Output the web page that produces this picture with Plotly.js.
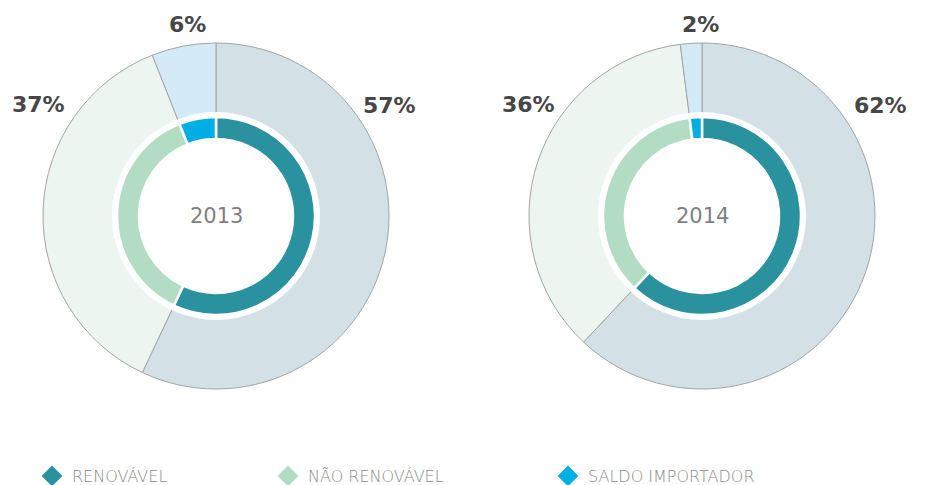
<!DOCTYPE html>
<html>
<head>
<meta charset="utf-8">
<script src="https://cdn.plot.ly/plotly-3.0.1.min.js"></script>
<style>html,body{margin:0;padding:0;background:#fff;}#chart{width:927px;height:485px;}</style>
</head>
<body>
<div id="chart"></div>
<script>
// ---- data ----
const categories = ["RENOVÁVEL", "NÃO RENOVÁVEL", "SALDO IMPORTADOR"];
const years = ["2013", "2014"];
const values2013 = [57, 37, 6];
const values2014 = [62, 36, 2];

// ---- styles ----
const outerColors = ["#d3e1e6", "#edf5f1", "#d4eaf6"];
const innerColors = ["#2a919f", "#b2dcc4", "#00aee6"];
const labelFont = {family: "DejaVu Sans", size: 22, color: "#464646", weight: 700};
const yearFont = {family: "DejaVu Sans", size: 21, color: "#7f7f7f"};
const legendFont = {family: "DejaVu Sans", size: 16, color: "#8a8a8a", weight: 200};

const W = 927, H = 485;
function px(x) { return x / W; }
function py(y) { return (H - y) / H; }

const charts = [
  {values: values2013, year: years[0], cx: 216, cy: 216,
   labelPos: [[389, 105], [38, 104], [187, 24]]},
  {values: values2014, year: years[1], cx: 702, cy: 216,
   labelPos: [[880, 105], [528, 104], [700, 24]]}
];
const R_OUT = 173, R_GAP = 104, R_IN = 99;

function dom(c, r) {
  return {x: [px(c.cx - r), px(c.cx + r)], y: [py(c.cy + r), py(c.cy - r)]};
}

const traces = [];
const annotations = [];
charts.forEach(c => {
  const total = c.values.reduce((a, b) => a + b, 0);
  // outer light ring
  traces.push({
    type: "pie", labels: categories, values: c.values, sort: false,
    direction: "clockwise", rotation: 0,
    marker: {colors: outerColors, line: {color: "#a4a4a4", width: 1}},
    textinfo: "none", hoverinfo: "skip", showlegend: false,
    domain: dom(c, R_OUT)
  });
  // white separation disc (whole total as one slice)
  traces.push({
    type: "pie", labels: [c.year], values: [total], sort: false,
    marker: {colors: ["#ffffff"], line: {color: "#ffffff", width: 0}},
    textinfo: "none", hoverinfo: "skip", showlegend: false,
    domain: dom(c, R_GAP)
  });
  // inner saturated ring
  traces.push({
    type: "pie", labels: categories, values: c.values, sort: false,
    direction: "clockwise", rotation: 0, hole: 77 / 99,
    marker: {colors: innerColors, line: {color: "#ffffff", width: 2.5}},
    textinfo: "none", hoverinfo: "skip", showlegend: false,
    domain: dom(c, R_IN)
  });
  annotations.push({
    xref: "paper", yref: "paper", x: px(c.cx), y: py(c.cy), text: c.year,
    showarrow: false, xanchor: "center", yanchor: "middle", font: yearFont
  });
  c.values.forEach((v, i) => {
    annotations.push({
      xref: "paper", yref: "paper", x: px(c.labelPos[i][0]), y: py(c.labelPos[i][1]),
      text: Math.round(v / total * 100) + "%", showarrow: false,
      xanchor: "center", yanchor: "middle", font: labelFont
    });
  });
});

// legend entries (diamond markers), one legend each so they can be placed freely
const legendNames = ["legend", "legend2", "legend3"];
const legendX = [52, 288, 568];
categories.forEach((cat, i) => {
  traces.push({
    type: "scatter", mode: "markers", x: [null], y: [null], name: cat,
    marker: {symbol: "diamond", size: 16, color: innerColors[i]},
    legend: legendNames[i], hoverinfo: "skip", showlegend: true
  });
});

const layout = {
  width: W, height: H,
  margin: {l: 0, r: 0, t: 0, b: 0, autoexpand: false},
  paper_bgcolor: "#ffffff", plot_bgcolor: "#ffffff",
  xaxis: {visible: false}, yaxis: {visible: false},
  annotations: annotations
};
legendNames.forEach((ln, i) => {
  layout[ln] = {
    orientation: "h", x: px(legendX[i] - 20), xanchor: "left",
    y: py(476), yanchor: "middle", font: legendFont,
    bgcolor: "rgba(0,0,0,0)", borderwidth: 0, itemsizing: "trace"
  };
});

Plotly.newPlot("chart", traces, layout, {displayModeBar: false, staticPlot: true});
</script>
</body>
</html>
